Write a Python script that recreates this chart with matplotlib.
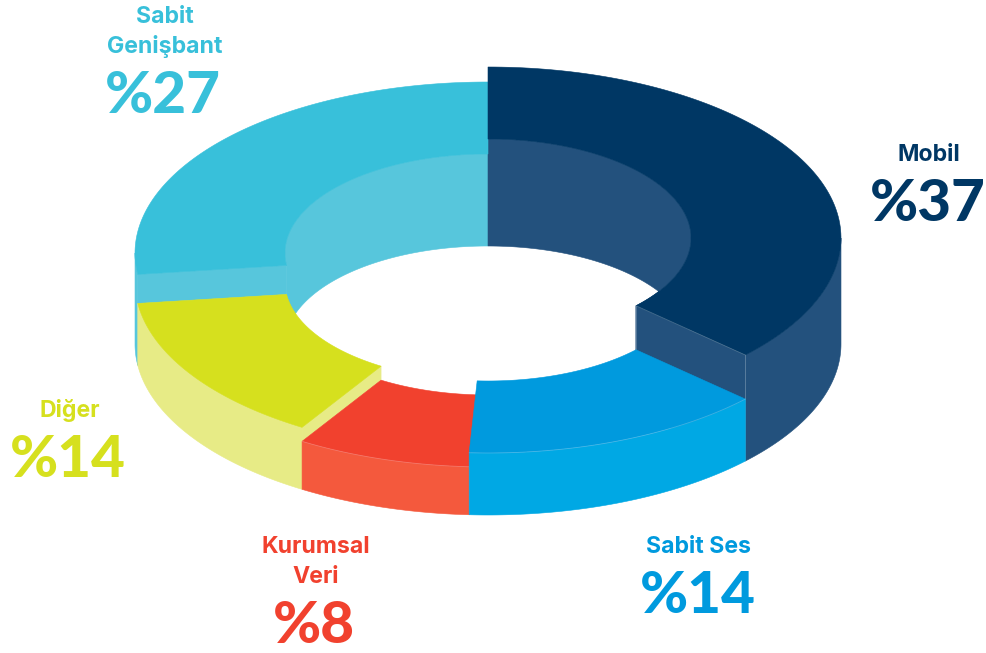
import numpy as np
import matplotlib
matplotlib.use("Agg")
import matplotlib.pyplot as plt
from matplotlib.patches import Polygon

# dilimler, saat yönünde tepeden başlayarak
names = ["Mobil", "Sabit Ses", "Kurumsal\nVeri", "Diğer", "Sabit\nGenişbant"]
shares = [37.0, 13.85, 7.98, 14.17, 27.0]
top_colors = ["#003764", "#009ADE", "#F1412E", "#D6E01E", "#38C0DA"]
wall_colors = ["#23517D", "#00A8E4", "#F4593D", "#E7EB86", "#57C6DC"]

# her dilimin üst yüzünün merkez yüksekliği (piksel)
top_y = [238, 282, 296, 282, 253]
# etiketlerin merkez x ve yüzde satırı taban çizgisi
pct_x = [928, 698, 314, 68, 163]
name_x = [929, 699, 316, 70, 165]
pct_y = [221, 613, 643, 477, 113]

CX = 488
RX_OUT, RY_OUT = 353, 171
RX_IN, RY_IN = 203, 99
BASE_OUT, BASE_IN = 344, 345

fig = plt.figure(figsize=(9.86, 6.53), dpi=100)
ax = fig.add_axes([0, 0, 1, 1])
ax.set_xlim(0, 986)
ax.set_ylim(653, 0)
ax.axis("off")


def arc(t0, t1, rx, ry, cy):
    t = np.radians(np.linspace(t0, t1, 120))
    return np.column_stack([CX + rx * np.sin(t), cy - ry * np.cos(t)])


def fill(pts, color, z, lw=0.4):
    ax.add_patch(Polygon(pts, closed=True, facecolor=color, edgecolor=color, lw=lw, zorder=z))


def top_face(i, t0, t1, z):
    pts = np.vstack([arc(t0, t1, RX_OUT, RY_OUT, top_y[i]),
                     arc(t1, t0, RX_IN, RY_IN, top_y[i])])
    fill(pts, top_colors[i], z)


def outer_wall(i, t0, t1, z):
    pts = np.vstack([arc(t0, t1, RX_OUT, RY_OUT, top_y[i]),
                     arc(t1, t0, RX_OUT, RY_OUT, BASE_OUT)])
    fill(pts, wall_colors[i], z)


def inner_wall(i, t0, t1, z):
    pts = np.vstack([arc(t0, t1, RX_IN, RY_IN, top_y[i]),
                     arc(t1, t0, RX_IN, RY_IN, BASE_IN)])
    fill(pts, wall_colors[i], z)


def cut_face(i, t, z, low=None):
    # kesit yüzü: dilimin üstünden komşu dilimin üstüne ya da tabana kadar
    low_out = BASE_OUT if low is None else low
    low_in = BASE_IN if low is None else low
    a = arc(t, t, RX_OUT, RY_OUT, top_y[i])[0]
    b = arc(t, t, RX_IN, RY_IN, top_y[i])[0]
    c = arc(t, t, RX_IN, RY_IN, low_in)[0]
    d = arc(t, t, RX_OUT, RY_OUT, low_out)[0]
    fill([a, b, c, d], wall_colors[i], z)
    return a, b, c, d


def seam(pts, z):
    # kenarlardaki ince açık çizgi
    pts = np.asarray(pts)
    ax.plot(pts[:, 0], pts[:, 1], color="white", alpha=0.25, lw=0.6, zorder=z)


edges = np.concatenate([[0], np.cumsum(shares)]) * 3.6
start = edges[:-1]
end = edges[1:]

# arka iç duvarlar
inner_wall(4, start[4], 360, 1)
inner_wall(0, 0, end[0], 1)

# Sabit Genişbant
outer_wall(4, start[4], 270, 2)
cut_face(4, start[4], 3, low=top_y[3])
top_face(4, start[4], 360, 4)

# Diğer
outer_wall(3, start[3], end[3], 5)
cut_face(3, start[3], 6, low=top_y[2])
top_face(3, start[3], end[3], 7)

# Kurumsal Veri
outer_wall(2, start[2], end[2], 8)
top_face(2, start[2], end[2], 9)
seam(arc(start[2], end[2], RX_OUT, RY_OUT, top_y[2]), 9.5)

# Mobil
outer_wall(0, 90, end[0], 10)
a, b, c, d = cut_face(0, end[0], 11)
top_face(0, 0, end[0], 12)
seam([b, a], 12.5)
seam([a, d], 12.5)
seam([b, c], 12.5)

# Sabit Ses
outer_wall(1, start[1], end[1], 13)
top_face(1, start[1], end[1], 14)
seam(arc(start[1], end[1], RX_OUT, RY_OUT, top_y[1]), 14.5)

# etiketler
for i in range(len(names)):
    ax.text(pct_x[i], pct_y[i], "%" + str(round(shares[i])), color=top_colors[i],
            family="Lato", weight="black", fontsize=42, ha="center", va="baseline", zorder=20)
    lines = names[i].split("\n")
    for j, line in enumerate(reversed(lines)):
        ax.text(name_x[i], pct_y[i] - 60 - j * 30, line, color=top_colors[i],
                family="Inter", weight="bold", fontsize=16.6, ha="center", va="baseline", zorder=20)

fig.savefig("out.png", dpi=100, facecolor="white")
